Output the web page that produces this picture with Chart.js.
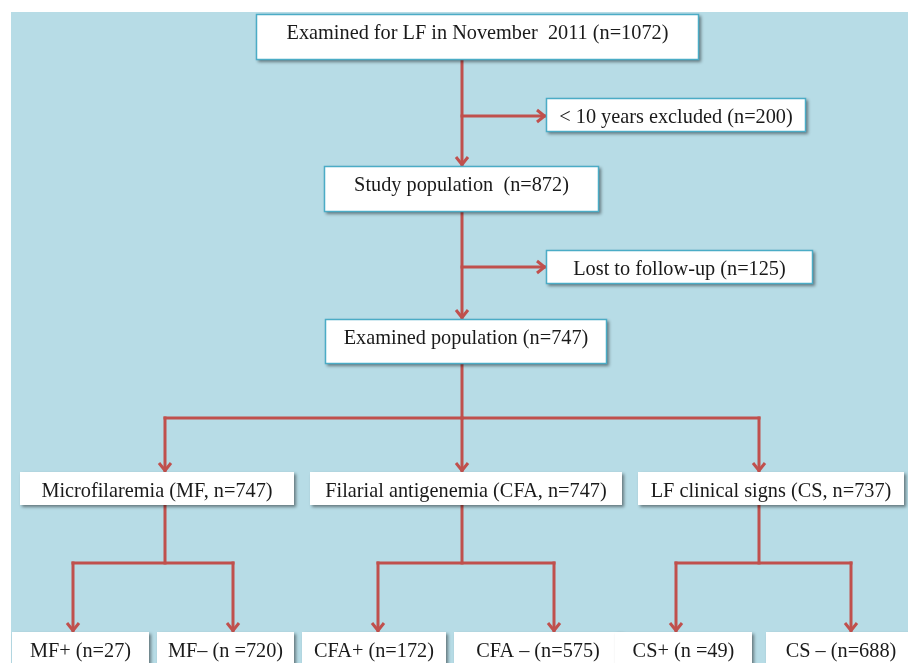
<!DOCTYPE html>
<html lang="en">
<head>
    <meta charset="UTF-8">
    <title>LF study flowchart</title>
    <script src="https://cdn.jsdelivr.net/npm/chart.js"></script>
    <style>
        body { margin: 0; background: #ffffff; }
        .container-grafico { position: relative; width: 908px; height: 663px; }
    </style>
</head>
<body>
    <div class="container-grafico">
        <canvas id="myChart"></canvas>
    </div>
<script>
    // texto de cada caixa
    var nodeLabels = [
        'Examined for LF in November  2011 (n=1072)',
        '< 10 years excluded (n=200)',
        'Study population  (n=872)',
        'Lost to follow-up (n=125)',
        'Examined population (n=747)',
        'Microfilaremia (MF, n=747)',
        'Filarial antigenemia (CFA, n=747)',
        'LF clinical signs (CS, n=737)',
        'MF+ (n=27)',
        'MF\u2013 (n =720)',
        'CFA+ (n=172)',
        'CFA \u2013 (n=575)',
        'CS+ (n =49)',
        'CS \u2013 (n=688)'
    ]
    var nodeCounts = [1072, 200, 872, 125, 747, 747, 747, 737, 27, 720, 172, 575, 49, 688]

    // layout das caixas (unidades do eixo)
    var nodeLeft   = [256, 546, 324, 546, 325,  20, 310, 638,  12, 157, 302, 454, 615, 766]
    var nodeTop    = [ 14,  98, 166, 250, 319, 472, 472, 472, 632, 632, 632, 632, 632, 632]
    var nodeWidth  = [443, 260, 275, 267, 282, 274, 312, 266, 137, 137, 144, 168, 137, 150]
    var nodeHeight = [ 46,  34,  46,  34,  45,  33,  33,  33,  40,  40,  40,  40,  40,  40]
    var nodeBorder = [true, true, true, true, true, false, false, false, false, false, false, false, false, false]

    // ligacoes: [x1, y1, x2, y2, seta]
    var links = [
        [462,  60, 462, 166, true],
        [462, 116, 546, 116, true],
        [462, 212, 462, 319, true],
        [462, 267, 546, 267, true],
        [462, 364, 462, 418, false],
        [165, 418, 759, 418, false],
        [165, 418, 165, 472, true],
        [462, 418, 462, 472, true],
        [759, 418, 759, 472, true],
        [165, 505, 165, 563, false],
        [ 73, 563, 233, 563, false],
        [ 73, 563,  73, 632, true],
        [233, 563, 233, 632, true],
        [462, 505, 462, 563, false],
        [378, 563, 554, 563, false],
        [378, 563, 378, 632, true],
        [554, 563, 554, 632, true],
        [759, 505, 759, 563, false],
        [676, 563, 851, 563, false],
        [676, 563, 676, 632, true],
        [851, 563, 851, 632, true]
    ]

    var corLinha = '#c0504d'

    var datasetsLinks = links.map(function (l) {
        return {
            data: [{ x: l[0], y: l[1] }, { x: l[2], y: l[3] }],
            showLine: true,
            borderColor: corLinha,
            borderWidth: 3,
            pointRadius: 0,
            borderCapStyle: 'square'
        }
    })

    var pluginFundo = {
        id: 'fundo',
        beforeDraw: function (chart) {
            var c = chart.ctx
            var sx = chart.scales.x, sy = chart.scales.y
            var x0 = sx.getPixelForValue(11), y0 = sy.getPixelForValue(12)
            c.save()
            c.fillStyle = '#b7dce6'
            c.fillRect(x0, y0, sx.getPixelForValue(908) - x0, sy.getPixelForValue(663) - y0)
            c.restore()
        }
    }

    var pluginCaixas = {
        id: 'caixas',
        afterDatasetsDraw: function (chart) {
            var c = chart.ctx
            var sx = chart.scales.x, sy = chart.scales.y

            // pontas das setas
            c.save()
            c.strokeStyle = corLinha
            c.lineWidth = 3
            c.lineJoin = 'miter'
            links.forEach(function (l) {
                if (!l[4]) return
                var tx = sx.getPixelForValue(l[2]), ty = sy.getPixelForValue(l[3])
                var ang = Math.atan2(ty - sy.getPixelForValue(l[1]), tx - sx.getPixelForValue(l[0]))
                var len = 9, half = 6
                c.beginPath()
                c.moveTo(tx - len * Math.cos(ang) + half * Math.sin(ang), ty - len * Math.sin(ang) - half * Math.cos(ang))
                c.lineTo(tx - 1.5 * Math.cos(ang), ty - 1.5 * Math.sin(ang))
                c.lineTo(tx - len * Math.cos(ang) - half * Math.sin(ang), ty - len * Math.sin(ang) + half * Math.cos(ang))
                c.stroke()
            })
            c.restore()

            // caixas e textos
            nodeLabels.forEach(function (txt, i) {
                var x = sx.getPixelForValue(nodeLeft[i])
                var y = sy.getPixelForValue(nodeTop[i])
                var w = sx.getPixelForValue(nodeLeft[i] + nodeWidth[i]) - x
                var h = sy.getPixelForValue(nodeTop[i] + nodeHeight[i]) - y
                c.save()
                c.shadowColor = 'rgba(0,0,0,0.45)'
                c.shadowBlur = 3
                c.shadowOffsetX = 2
                c.shadowOffsetY = 2
                c.fillStyle = '#ffffff'
                c.fillRect(x, y, w, h)
                c.restore()
                if (nodeBorder[i]) {
                    c.save()
                    c.strokeStyle = '#4bacc6'
                    c.lineWidth = 1.5
                    c.strokeRect(x + 0.5, y + 0.5, w - 1, h - 1)
                    c.restore()
                }
                c.save()
                c.fillStyle = '#1a1a1a'
                c.font = '20.3px "Liberation Serif", "Times New Roman", serif'
                c.textAlign = 'center'
                c.textBaseline = 'middle'
                c.fillText(txt, x + w / 2, sy.getPixelForValue(nodeTop[i] + 20))
                c.restore()
            })
        }
    }

    const ctx = document.getElementById('myChart')

    var grafico_fluxo = new Chart(ctx, {
        type: 'scatter',
        data: { datasets: datasetsLinks },
        options: {
            responsive: true,
            maintainAspectRatio: false,
            animation: false,
            layout: { padding: 0 },
            plugins: {
                legend: { display: false },
                tooltip: { enabled: false }
            },
            scales: {
                x: { type: 'linear', min: 0, max: 908, display: false },
                y: { type: 'linear', min: 0, max: 663, reverse: true, display: false }
            }
        },
        plugins: [pluginFundo, pluginCaixas]
    })
</script>
</body>
</html>
